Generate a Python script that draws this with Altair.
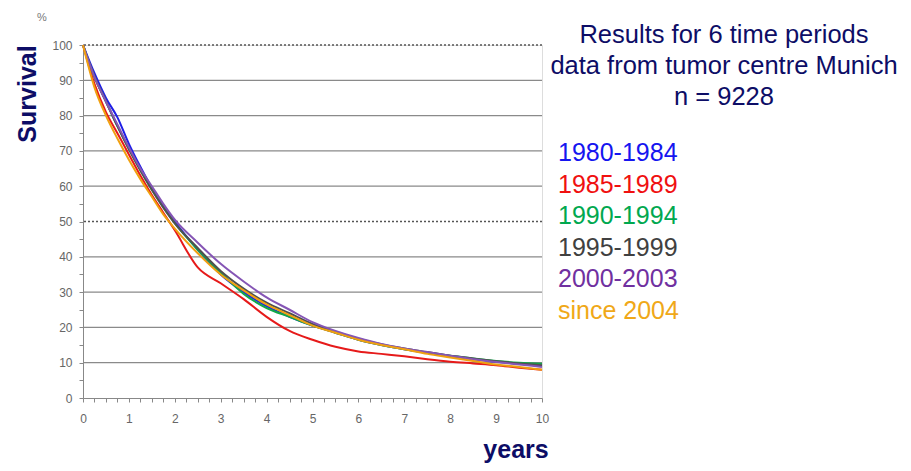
import altair as alt
import pandas as pd

years = [0, 0.25, 0.5, 0.75, 1, 1.25, 1.5, 1.75, 2, 2.5, 3, 3.5, 4, 4.5, 5,
         5.5, 6, 6.5, 7, 7.5, 8, 8.5, 9, 9.5, 10]

s_1980_1984 = [100, 92, 85, 79.5, 72, 65.5, 59.5, 54.5, 50, 42, 35, 30, 26, 23, 20.5,
               18.5, 16.5, 15, 13.8, 12.8, 11.8, 11, 10.3, 9.7, 9.2]
s_1985_1989 = [100, 89, 81, 75, 69, 63, 57.5, 52.5, 47.5, 37, 32.5, 28, 23, 19, 16.5,
               14.5, 13.2, 12.5, 11.8, 11, 10.3, 9.8, 9.3, 8.6, 8]
s_1990_1994 = [100, 91, 84, 77, 70.5, 64.5, 59, 54, 49.5, 42, 35.5, 29.5, 25.5, 23, 20.5,
               18.5, 16.5, 15, 13.8, 12.8, 12, 11.2, 10.5, 10, 9.7]
s_1995_1999 = [100, 91, 84, 77, 70.5, 64.5, 59, 54, 49.5, 42.5, 36, 31, 27, 24, 21,
               18.8, 16.8, 15.2, 14, 13, 12, 11.2, 10.4, 9.8, 9.3]
s_2000_2003 = [100, 91, 84, 77.5, 71, 65, 60, 55, 50.5, 44, 38, 33, 28.5, 25, 21.5,
               19, 17, 15.3, 14, 13, 12, 11, 10.2, 9.5, 8.8]
s_since_2004 = [100, 88, 80, 73.5, 67.5, 62, 57, 52, 48, 41, 35, 30.5, 26.5, 23.5, 20.5,
                18.5, 16.5, 15, 13.8, 12.5, 11.5, 10.5, 9.5, 8.8, 8]

periods = ["1980-1984", "1985-1989", "1990-1994", "1995-1999", "2000-2003", "since 2004"]
series = [s_1980_1984, s_1985_1989, s_1990_1994, s_1995_1999, s_2000_2003, s_since_2004]
line_colors = ["#1f1fe6", "#e61a1a", "#12a64a", "#505050", "#8555b5", "#f0a010"]
text_colors = ["#1515f0", "#f01010", "#00a84f", "#404040", "#7030a0", "#f0a818"]

title_lines = ["Results for 6 time periods", "data from tumor centre Munich", "n = 9228"]

solid_grid = [10, 20, 30, 40, 60, 70, 80, 90]
dotted_grid = [50, 100]
x_ticks = [i * 0.25 for i in range(41)]
y_ticks = [i * 5 for i in range(21)]

rows = []
for p, vals in zip(periods, series):
    for t, v in zip(years, vals):
        rows.append({"period": p, "year": t, "survival": v})
df = pd.DataFrame(rows)

NAVY = "#0d0d66"
FONT = "Liberation Sans"

xscale = alt.Scale(domain=[0, 10], nice=False, zero=False)
yscale = alt.Scale(domain=[0, 100], nice=False)

x_axis = alt.Axis(values=x_ticks, title=None, grid=False,
                  labelExpr="datum.value % 1 == 0 ? format(datum.value, 'd') : ''",
                  labelFont=FONT, labelFontSize=12, labelColor="#666666",
                  labelPadding=11, tickSize=4, tickColor="#888888",
                  domainColor="#888888", labelFlush=False, labelOverlap=False)
y_axis = alt.Axis(values=y_ticks, title=None, grid=False,
                  labelExpr="datum.value % 10 == 0 ? format(datum.value, 'd') : ''",
                  labelFont=FONT, labelFontSize=12, labelColor="#666666",
                  labelPadding=7, tickSize=4, tickColor="#888888",
                  domainColor="#888888", labelFlush=False, labelOverlap=False)

grid_solid = alt.Chart(pd.DataFrame({"v": solid_grid})).mark_rule(
    color="#8a8a8a", strokeWidth=1.2).encode(y=alt.Y("v:Q", scale=yscale, axis=y_axis))
grid_dot = alt.Chart(pd.DataFrame({"v": dotted_grid})).mark_rule(
    color="#555555", strokeWidth=1.3, strokeDash=[2, 2]).encode(
    y=alt.Y("v:Q", scale=yscale, axis=y_axis))

lines = alt.Chart(df).mark_line(strokeWidth=2, interpolate="monotone").encode(
    x=alt.X("year:Q", scale=xscale, axis=x_axis),
    y=alt.Y("survival:Q", scale=yscale, axis=y_axis),
    color=alt.Color("period:N", scale=alt.Scale(domain=periods, range=line_colors), legend=None),
    order=alt.Order("year:Q"),
)

def txt(s, x, y, size, color, bold=False, align="left", angle=0, baseline="middle"):
    return alt.Chart().mark_text(
        text=s, align=align, baseline=baseline, fontSize=size, color=color,
        font=FONT, fontWeight="bold" if bold else "normal", angle=angle
    ).encode(x=alt.value(x), y=alt.value(y))

texts = []
for i, line in enumerate(title_lines):
    texts.append(txt(line, 641, -10 + 31 * i, 25.5, NAVY, align="center"))
for i, (p, c) in enumerate(zip(periods, text_colors)):
    texts.append(txt(p, 475, 108 + 31.6 * i, 25, c))
texts.append(txt("Survival", -55, 49, 25, NAVY, bold=True, align="center", angle=270))
texts.append(txt("%", -41, -27, 11, "#777777", align="center"))
texts.append(txt("years", 433, 413, 25, NAVY, bold=True, align="center", baseline="alphabetic"))

chart = alt.layer(grid_solid, grid_dot, lines, *texts).properties(
    width=459, height=353,
    autosize=alt.AutoSizeParams(type="none"),
    padding={"left": 75, "top": 37, "right": 361, "bottom": 65},
).configure_view(stroke=None).configure(background="white")

chart.save("out.html", embed_options={"renderer": "svg", "actions": False})
